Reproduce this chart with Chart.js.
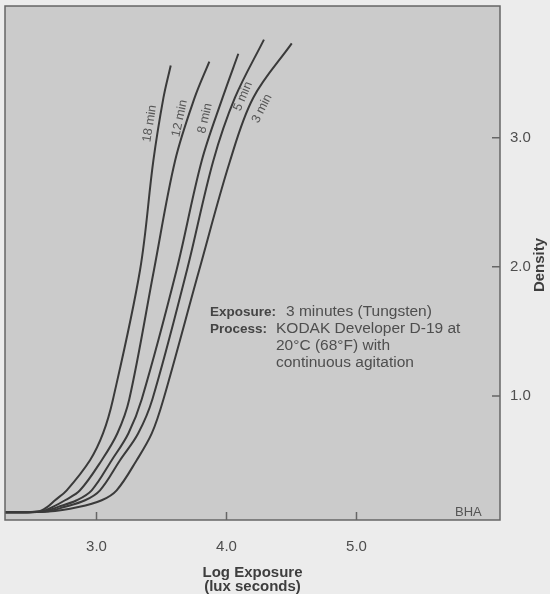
<!DOCTYPE html>
<html>
<head>
<meta charset="utf-8">
<title>D-19 development curves</title>
<script src="https://cdn.jsdelivr.net/npm/chart.js@4.4.1/dist/chart.umd.min.js"></script>
<style>
  html, body { margin: 0; padding: 0; background: #ebebeb; }
  canvas { display: block; }
</style>
</head>
<body>
<canvas id="curvas" width="550" height="594"></canvas>
<script>
/* =====================================================
   Characteristic curves — KODAK D-19, 5 development times
===================================================== */

const TIEMPOS = ["18 min", "12 min", "8 min", "5 min", "3 min"]

// log exposure / density pairs for each development time
const LOGE_18 = [2.29, 2.55, 2.62, 2.681, 2.771, 2.95, 3.05, 3.127, 3.335, 3.437, 3.515, 3.571]
const DENS_18 = [0.10, 0.105, 0.14, 0.193, 0.27, 0.503, 0.71, 0.975, 1.976, 2.82, 3.31, 3.56]

const LOGE_12 = [2.29, 2.57, 2.66, 2.758, 2.873, 3.04, 3.16, 3.252, 3.442, 3.604, 3.755, 3.868]
const DENS_12 = [0.10, 0.105, 0.14, 0.193, 0.27, 0.503, 0.71, 0.975, 1.976, 2.82, 3.31, 3.59]

const LOGE_8 = [2.29, 2.59, 2.70, 2.848, 2.963, 3.117, 3.245, 3.348, 3.616, 3.809, 3.97, 4.091]
const DENS_8 = [0.10, 0.105, 0.14, 0.193, 0.27, 0.503, 0.71, 0.975, 1.976, 2.82, 3.31, 3.65]

const LOGE_5 = [2.29, 2.61, 2.75, 2.912, 3.027, 3.181, 3.32, 3.43, 3.696, 3.898, 4.065, 4.288]
const DENS_5 = [0.10, 0.105, 0.14, 0.193, 0.27, 0.503, 0.71, 0.975, 1.976, 2.82, 3.31, 3.76]

const LOGE_3 = [2.29, 2.63, 2.86, 3.04, 3.155, 3.309, 3.425, 3.515, 3.79, 4.027, 4.206, 4.502]
const DENS_3 = [0.10, 0.105, 0.14, 0.193, 0.27, 0.503, 0.71, 0.975, 1.976, 2.82, 3.31, 3.73]

const TICKS_X = [3.0, 4.0, 5.0]
const TICKS_Y = [1.0, 2.0, 3.0]

const CURVAS = [
  [LOGE_18, DENS_18], [LOGE_12, DENS_12], [LOGE_8, DENS_8], [LOGE_5, DENS_5], [LOGE_3, DENS_3],
]

// curve captions: anchor in data units + rotation (deg)
const ETIQUETAS = [
  { x: 3.41,  y: 3.11,  rot: -81 },
  { x: 3.64,  y: 3.15,  rot: -78 },
  { x: 3.835, y: 3.15,  rot: -77 },
  { x: 4.127, y: 3.32,  rot: -67 },
  { x: 4.273, y: 3.225, rot: -63 },
]

const GRIS_TEXTO = "#4e4e4e"
const FUENTE = "'Liberation Sans', Arial, Helvetica, sans-serif"

const marco = {
  id: "marco",
  beforeDraw(chart) {
    const { ctx, chartArea: a } = chart
    ctx.save()
    ctx.fillStyle = "#ececec"
    ctx.fillRect(0, 0, chart.width, chart.height)
    ctx.fillStyle = "#cbcbcb"
    ctx.fillRect(a.left, a.top, a.right - a.left, a.bottom - a.top)
    ctx.restore()
  },
  afterDatasetsDraw(chart) {
    const { ctx, chartArea: a, scales: { x, y } } = chart
    ctx.save()

    // frame
    ctx.strokeStyle = "#666"
    ctx.lineWidth = 1.5
    ctx.strokeRect(a.left, a.top, a.right - a.left, a.bottom - a.top)

    // tick marks pointing into the plot
    ctx.beginPath()
    TICKS_X.forEach(v => {
      const px = x.getPixelForValue(v)
      ctx.moveTo(px, a.bottom)
      ctx.lineTo(px, a.bottom - 8)
    })
    TICKS_Y.forEach(v => {
      const py = y.getPixelForValue(v)
      ctx.moveTo(a.right, py)
      ctx.lineTo(a.right - 8, py)
    })
    ctx.stroke()

    // curve captions
    ctx.fillStyle = "#555"
    ctx.font = "12.5px " + FUENTE
    ctx.textAlign = "center"
    ctx.textBaseline = "middle"
    ETIQUETAS.forEach((e, i) => {
      ctx.save()
      ctx.translate(x.getPixelForValue(e.x), y.getPixelForValue(e.y))
      ctx.rotate(e.rot * Math.PI / 180)
      ctx.fillText(TIEMPOS[i], 0, 0)
      ctx.restore()
    })

    // exposure / process note
    ctx.textAlign = "left"
    ctx.textBaseline = "alphabetic"
    ctx.fillStyle = "#444"
    ctx.font = "bold 13.5px " + FUENTE
    ctx.fillText("Exposure:", 210, 316)
    ctx.fillText("Process:", 210, 333)
    ctx.fillStyle = GRIS_TEXTO
    ctx.font = "15.5px " + FUENTE
    ctx.fillText("3 minutes (Tungsten)", 286, 316)
    ctx.fillText("KODAK Developer D-19 at", 276, 333)
    ctx.fillText("20°C (68°F) with", 276, 350)
    ctx.fillText("continuous agitation", 276, 367)

    ctx.font = "13px " + FUENTE
    ctx.fillStyle = "#555"
    ctx.fillText("BHA", 455, 516)

    // right axis title, reading upwards
    ctx.save()
    ctx.translate(540, 265)
    ctx.rotate(-Math.PI / 2)
    ctx.textAlign = "center"
    ctx.textBaseline = "middle"
    ctx.fillStyle = "#3e3e3e"
    ctx.font = "bold 15px " + FUENTE
    ctx.fillText("Density", 0, 0)
    ctx.restore()

    ctx.restore()
  }
}

new Chart(document.getElementById("curvas"), {
  type: "scatter",
  data: {
    datasets: CURVAS.map(([xs, ys], i) => ({
      label: TIEMPOS[i],
      data: xs.map((v, j) => ({ x: v, y: ys[j] })),
      showLine: true,
      borderColor: "#3a3a3a",
      borderWidth: 2,
      pointRadius: 0,
      tension: 0.35,
    }))
  },
  options: {
    responsive: false,
    animation: false,
    layout: { padding: { left: 5, top: 6, right: 0, bottom: 0 } },
    plugins: { legend: { display: false }, tooltip: { enabled: false } },
    scales: {
      x: {
        type: "linear",
        position: "bottom",
        min: 2.296,
        max: 6.104,
        afterBuildTicks: s => { s.ticks = TICKS_X.map(v => ({ value: v })) },
        afterFit: s => { s.height = 74; s.paddingLeft = 0; s.paddingRight = 0 },
        grid: { display: false, drawTicks: false },
        border: { display: false },
        ticks: {
          padding: 18,
          color: GRIS_TEXTO,
          font: { family: FUENTE, size: 15 },
          callback: v => v.toFixed(1),
        },
        title: {
          display: true,
          text: ["Log Exposure", "(lux seconds)"],
          color: "#3e3e3e",
          font: { family: FUENTE, size: 15, weight: "bold", lineHeight: 0.95 },
          padding: { top: 0, bottom: 0 },
        },
      },
      y: {
        type: "linear",
        position: "right",
        min: 0.04,
        max: 4.02,
        afterBuildTicks: s => { s.ticks = TICKS_Y.map(v => ({ value: v })) },
        afterFit: s => { s.width = 50; s.paddingTop = 0; s.paddingBottom = 0 },
        grid: { display: false, drawTicks: false },
        border: { display: false },
        ticks: {
          padding: 10,
          color: GRIS_TEXTO,
          font: { family: FUENTE, size: 15 },
          callback: v => v.toFixed(1),
        },
      },
    },
  },
  plugins: [marco],
})
</script>
</body>
</html>
